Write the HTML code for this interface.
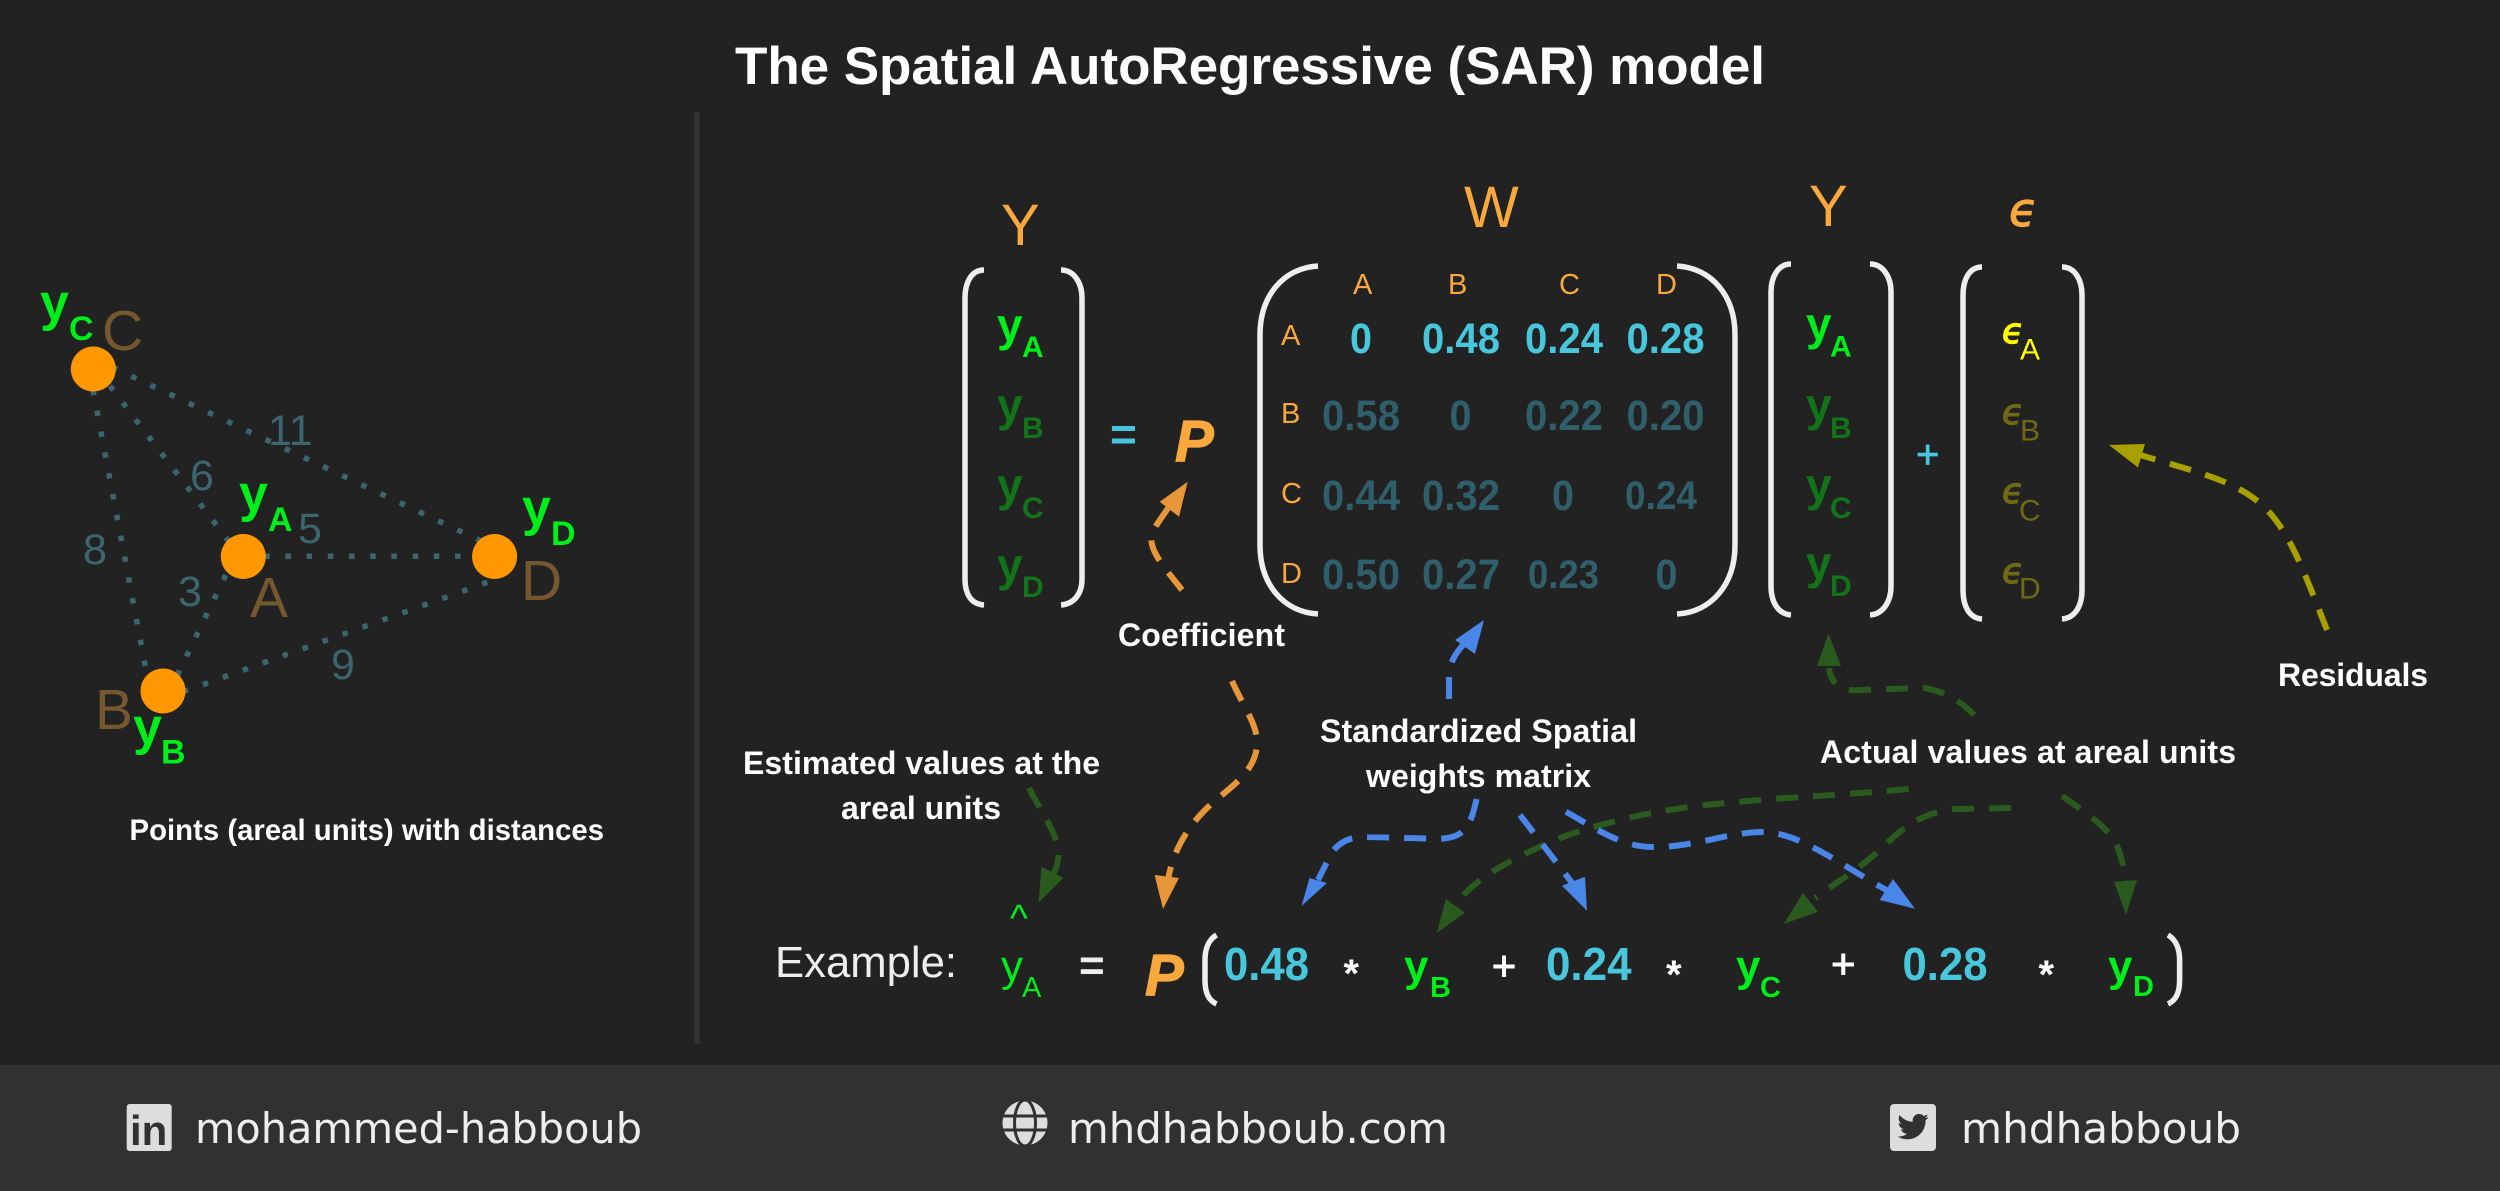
<!DOCTYPE html>
<html lang="en">
<head>
<meta charset="utf-8">
<title>The Spatial AutoRegressive (SAR) model</title>
<style>
html,body{margin:0;padding:0;background:#222;width:2500px;height:1191px;overflow:hidden}
svg{display:block;font-family:"Liberation Sans",sans-serif}
.dot{fill:none;stroke:#3d6570;stroke-width:5.5;stroke-dasharray:5.5 15.7}
.br{fill:none;stroke:#eee;stroke-width:5.5}
.lbl{font-weight:700;font-size:32px;fill:#fff}
.gb{font-weight:700;fill:#00ee1a}
.dash{fill:none;stroke-width:6;stroke-dasharray:22 15}
.num{font-weight:700;font-size:43px}
.c{fill:#48c6dc}.d{fill:#2f5f6b}
.or{fill:#f9a83e}
.gd{fill:#127418;font-weight:700}
.g{fill:#00ee1a;font-weight:700}
.eps{font-family:"DejaVu Sans",sans-serif;font-style:italic;font-weight:400;stroke-width:1.2px}
.foot{font-family:"DejaVu Sans",sans-serif;font-size:42px;fill:#eee}
</style>
</head>
<body>
<svg width="2500" height="1191" viewBox="0 0 2500 1191" xmlns="http://www.w3.org/2000/svg">
<rect width="2500" height="1191" fill="#222"/>
<text x="735" y="84" font-size="53" font-weight="700" fill="#fff" textLength="1030">The Spatial AutoRegressive (SAR) model</text>
<rect x="694.500" y="112" width="5" height="932" fill="#333"/>

<!-- Left graph -->
<line class="dot" x1="89" y1="369" x2="150" y2="691"/>
<line class="dot" x1="97" y1="369" x2="240" y2="556"/>
<line class="dot" x1="93" y1="358" x2="495" y2="547.600"/>
<line class="dot" x1="243" y1="556.300" x2="495" y2="556.300"/>
<line class="dot" x1="235" y1="556" x2="169.600" y2="691"/>
<line class="dot" x1="163" y1="699" x2="495" y2="579.600"/>
<circle cx="93.300" cy="369" r="22.500" fill="#ff9800"/>
<circle cx="243.300" cy="556.500" r="22.500" fill="#ff9800"/>
<circle cx="494.600" cy="556.500" r="22.500" fill="#ff9800"/>
<circle cx="163" cy="691" r="22.500" fill="#ff9800"/>
<g font-size="57" fill="#75582f">
<text x="102" y="350">C</text>
<text x="250" y="617">A</text>
<text x="521" y="600">D</text>
<text x="95" y="729">B</text>
</g>
<g font-size="43" fill="#3d6570">
<text x="268" y="445">11</text>
<text x="190" y="490">6</text>
<text x="298" y="543">5</text>
<text x="83" y="564">8</text>
<text x="178" y="606">3</text>
<text x="331" y="679">9</text>
</g>
<g class="gb">
<text x="40" y="320" font-size="52">y</text><text x="69" y="340" font-size="34">C</text>
<text x="239" y="511" font-size="52">y</text><text x="268" y="531" font-size="34">A</text>
<text x="522" y="525" font-size="52">y</text><text x="551" y="545" font-size="34">D</text>
<text x="133" y="744" font-size="52">y</text><text x="161" y="763.500" font-size="34">B</text>
</g>
<text x="129.500" y="840" class="lbl" style="font-size:29.300px" textLength="474.500">Points (areal units) with distances</text>

<!-- Headers -->
<g font-size="58" class="or">
<text x="1001" y="245">Y</text>
<text x="1464" y="227">W</text>
<text x="1809" y="226">Y</text>
</g>
<text x="2009" y="226" class="eps or" stroke="#f9a83e" font-size="46">ϵ</text>

<!-- Brackets -->
<path class="br" d="M984,270C971,270 965,283 965,298V579C965,594 971,604 984,605"/>
<path class="br" d="M1061,270C1074,270 1082,283 1082,298V579C1082,594 1074,604 1061,605"/>
<path class="br" d="M1318,266C1284,268 1260,295 1260,335V545C1260,585 1284,612 1318,614"/>
<path class="br" d="M1677,266C1711,268 1735,295 1735,335V545C1735,585 1711,612 1677,614"/>
<path class="br" d="M1791,264C1778,264 1771,277 1771,292V586C1771,602 1778,614 1791,615"/>
<path class="br" d="M1870,264C1883,264 1891,277 1891,292V586C1891,602 1883,614 1870,615"/>
<path class="br" d="M1982,267C1969,267 1963,280 1963,295V590C1963,606 1969,618 1982,619"/>
<path class="br" d="M2062,267C2075,267 2082,280 2082,295V590C2082,606 2075,618 2062,619"/>

<!-- Y left entries -->
<text x="997" y="341" font-size="46" class="g">y</text><text x="1022" y="357" font-size="30" class="g">A</text>
<text x="997" y="421" font-size="46" class="gd">y</text><text x="1022" y="438" font-size="30" class="gd">B</text>
<text x="997" y="501" font-size="46" class="gd">y</text><text x="1022" y="518" font-size="30" class="gd">C</text>
<text x="997" y="581" font-size="46" class="gd">y</text><text x="1022" y="597" font-size="30" class="gd">D</text>

<text x="1110" y="450" font-size="46" font-weight="700" fill="#48c6dc">=</text>
<text x="1175" y="461" font-size="58" font-weight="700" font-style="italic" class="or" stroke="#f9a83e" stroke-width="1.2">P</text>

<!-- W headers -->
<g font-size="29" class="or">
<text x="1353" y="294">A</text>
<text x="1448" y="294">B</text>
<text x="1559" y="294">C</text>
<text x="1656" y="294">D</text>
<text x="1281" y="345">A</text>
<text x="1281" y="423">B</text>
<text x="1281" y="503">C</text>
<text x="1281" y="583">D</text>
</g>
<!-- W values -->
<g class="num" lengthAdjust="spacingAndGlyphs">
<text x="1350" y="353" class="c" textLength="22" lengthAdjust="spacingAndGlyphs">0</text>
<text x="1422" y="353" class="c" textLength="78" lengthAdjust="spacingAndGlyphs">0.48</text>
<text x="1525" y="353" class="c" textLength="78" lengthAdjust="spacingAndGlyphs">0.24</text>
<text x="1626.500" y="353" class="c" textLength="78" lengthAdjust="spacingAndGlyphs">0.28</text>
<text x="1322" y="430" class="d" textLength="78" lengthAdjust="spacingAndGlyphs">0.58</text>
<text x="1449.500" y="430" class="d" textLength="22" lengthAdjust="spacingAndGlyphs">0</text>
<text x="1525" y="430" class="d" textLength="78" lengthAdjust="spacingAndGlyphs">0.22</text>
<text x="1626.500" y="430" class="d" textLength="78" lengthAdjust="spacingAndGlyphs">0.20</text>
<text x="1322" y="510" class="d" textLength="78" lengthAdjust="spacingAndGlyphs">0.44</text>
<text x="1422" y="510" class="d" textLength="78" lengthAdjust="spacingAndGlyphs">0.32</text>
<text x="1552" y="510" class="d" textLength="22" lengthAdjust="spacingAndGlyphs">0</text>
<text x="1625" y="509" class="d" style="font-size:40px" textLength="72" lengthAdjust="spacingAndGlyphs">0.24</text>
<text x="1322" y="589" class="d" textLength="78" lengthAdjust="spacingAndGlyphs">0.50</text>
<text x="1422" y="589" class="d" textLength="78" lengthAdjust="spacingAndGlyphs">0.27</text>
<text x="1528" y="588" class="d" style="font-size:40px" textLength="71" lengthAdjust="spacingAndGlyphs">0.23</text>
<text x="1655.500" y="589" class="d" textLength="22" lengthAdjust="spacingAndGlyphs">0</text>
</g>

<!-- Y right entries -->
<text x="1806" y="340" font-size="46" class="g">y</text><text x="1830" y="356.500" font-size="30" class="g">A</text>
<text x="1806" y="421" font-size="46" class="gd">y</text><text x="1830" y="438" font-size="30" class="gd">B</text>
<text x="1806" y="501" font-size="46" class="gd">y</text><text x="1830" y="518" font-size="30" class="gd">C</text>
<text x="1806" y="579" font-size="46" class="gd">y</text><text x="1830" y="596" font-size="30" class="gd">D</text>

<text x="1916" y="468" font-size="40" fill="#48c6dc" stroke="#48c6dc" stroke-width="0.8">+</text>

<!-- eps entries -->
<text x="2002" y="343" font-size="35" class="eps" fill="#ffff00" stroke="#ffff00">ϵ</text><text x="2020" y="359.500" font-size="30" fill="#ffff00">A</text>
<text x="2002" y="424" font-size="35" class="eps" fill="#6e6a14" stroke="#6e6a14">ϵ</text><text x="2020" y="440.500" font-size="30" fill="#6e6a14">B</text>
<text x="2002" y="503" font-size="35" class="eps" fill="#6e6a14" stroke="#6e6a14">ϵ</text><text x="2019" y="520.500" font-size="30" fill="#6e6a14">C</text>
<text x="2002" y="583" font-size="35" class="eps" fill="#6e6a14" stroke="#6e6a14">ϵ</text><text x="2019" y="598.500" font-size="30" fill="#6e6a14">D</text>

<!-- Labels -->
<text x="1118" y="646" class="lbl" textLength="167">Coefficient</text>
<text x="2278" y="686" class="lbl" textLength="150">Residuals</text>
<text x="1820" y="763" class="lbl" textLength="416">Actual values at areal units</text>
<text x="1320" y="742" class="lbl" textLength="317">Standardized Spatial</text>
<text x="1366" y="787" class="lbl" textLength="225">weights matrix</text>
<text x="743" y="774" class="lbl" textLength="357">Estimated values at the</text>
<text x="841" y="819" class="lbl" textLength="160">areal units</text>

<!-- Green arrows (behind blue) -->
<g stroke="#2a5a1e">
<path class="dash" d="M1974,715C1960,700 1945,692 1925,688L1889,689L1860,690C1838,692 1830,680 1829,668"/>
<path class="dash" d="M1029,788C1040,810 1055,830 1058,848C1060,860 1056,868 1053,875"/>
<path class="dash" d="M1908.700,789C1850,795 1780,797 1706,805C1660,810 1610,820 1560,838C1520,855 1480,875 1462,897"/>
<path class="dash" d="M2011,808L1956,809C1925,812 1905,825 1885,845C1865,865 1840,880 1815,898"/>
<path class="dash" d="M2062,796C2085,812 2105,825 2115,842C2122,855 2124,870 2125,885"/>
</g>
<polygon fill="#2a5a1e" points="1828.500,633.500 1817,666 1841,666"/>
<polygon fill="#2a5a1e" points="1038.600,902.700 1041.500,866.700 1063.300,878"/>
<polygon fill="#2a5a1e" points="1436.700,933 1446,899 1465,912.700"/>
<polygon fill="#2a5a1e" points="1783.700,924 1803,893 1818,911.700"/>
<polygon fill="#2a5a1e" points="2126,915 2114,881.700 2137,880"/>

<!-- Orange arrows -->
<path class="dash" stroke="#e8963a" d="M1182,590C1165,568 1148,550 1152,535C1155,525 1162,518 1170,505"/>
<polygon fill="#e8963a" points="1187.700,481.700 1159.700,501.700 1179,516.700"/>
<path class="dash" stroke="#e8963a" d="M1232,681C1245,710 1258,725 1257,745C1255,775 1225,790 1205,810C1185,830 1172,855 1168,880"/>
<polygon fill="#e8963a" points="1163,909 1154.600,875 1179,878"/>

<!-- Blue arrows -->
<path class="dash" stroke="#4a86e8" d="M1449,699L1449,675C1450,660 1458,650 1466,642"/>
<polygon fill="#4a86e8" points="1484,620 1455,640 1475,654"/>
<path class="dash" stroke="#4a86e8" d="M1476.600,799C1473,815 1470,825 1462,832C1450,842 1430,838 1406,838L1368,837C1350,836 1340,842 1332,852L1318,880"/>
<polygon fill="#4a86e8" points="1301.500,906 1309.500,878 1327,883"/>
<path class="dash" stroke="#4a86e8" d="M1520,815L1576,888"/>
<polygon fill="#4a86e8" points="1587,910.700 1562,885.700 1585,876.700"/>
<path class="dash" stroke="#4a86e8" d="M1566,811.700C1590,825 1620,847 1652,847C1690,848 1730,832 1762,832C1800,832 1840,865 1890,892"/>
<polygon fill="#4a86e8" points="1915,908.700 1879.600,900 1893,879"/>

<!-- Residuals arrow -->
<path class="dash" stroke="#a8a000" d="M2327,630C2305,575 2290,530 2262,505C2235,480 2190,470 2140,455"/>
<polygon fill="#a8a000" points="2109,445 2145,444 2138,467.500"/>

<!-- Example row -->
<text x="775" y="977" font-size="44" fill="#eee" textLength="182" lengthAdjust="spacingAndGlyphs">Example:</text>
<text x="1010" y="931" font-size="38" fill="#00ee1a">^</text>
<text x="1001" y="981" font-size="44" fill="#00ee1a">y</text><text x="1022" y="997" font-size="29" fill="#00ee1a">A</text>
<text x="1079" y="980" font-size="44" font-weight="700" fill="#eee">=</text>
<text x="1145" y="995" font-size="58" font-weight="700" font-style="italic" class="or" stroke="#f9a83e" stroke-width="1.2">P</text>
<path class="br" d="M1216.500,935C1208,940 1205,950 1205,960V980C1205,992 1208,1000 1216.500,1004"/>
<g font-size="46" font-weight="700" fill="#48c6dc">
<text x="1224" y="980" textLength="85" lengthAdjust="spacingAndGlyphs">0.48</text>
<text x="1546" y="980" textLength="85.500" lengthAdjust="spacingAndGlyphs">0.24</text>
<text x="1902.500" y="980" textLength="85" lengthAdjust="spacingAndGlyphs">0.28</text>
</g>
<g font-size="40" font-weight="700" fill="#fff">
<text x="1343.500" y="987">*</text>
<text x="1666" y="988">*</text>
<text x="2038.500" y="988">*</text>
</g>
<g font-size="42" fill="#fff" stroke="#fff" stroke-width="1">
<text x="1491.700" y="980">+</text>
<text x="1831" y="978">+</text>
</g>
<text x="1404" y="981" font-size="44" class="g">y</text><text x="1430" y="997" font-size="29" class="g">B</text>
<text x="1736" y="981" font-size="44" class="g">y</text><text x="1760" y="997" font-size="29" class="g">C</text>
<text x="2108" y="981" font-size="44" class="g">y</text><text x="2133" y="996" font-size="29" class="g">D</text>
<path class="br" d="M2168,935C2176.500,940 2179.600,950 2179.600,960V980C2179.600,992 2176.500,1000 2168,1004"/>

<!-- Footer -->
<rect x="0" y="1065" width="2500" height="126" fill="#313131"/>
<rect x="126.700" y="1104" width="45" height="47" rx="3" fill="#ddd"/>
<text x="130" y="1145" font-size="42" font-weight="700" fill="#313131">in</text>
<text x="195" y="1143" class="foot" textLength="447" lengthAdjust="spacingAndGlyphs">mohammed-habboub</text>

<circle cx="1025" cy="1123" r="22.500" fill="#ddd"/>
<g fill="none" stroke="#313131" stroke-width="3">
<ellipse cx="1025" cy="1123" rx="10.500" ry="23"/>
<line x1="1000" y1="1116" x2="1050" y2="1116"/>
<line x1="1000" y1="1130" x2="1050" y2="1130"/>
</g>
<text x="1068" y="1143" class="foot" textLength="380" lengthAdjust="spacingAndGlyphs">mhdhabboub.com</text>

<rect x="1890" y="1104" width="46" height="47" rx="4" fill="#ddd"/>
<path transform="translate(1897.500,1111) scale(1.3)" fill="#313131" d="M23.953 4.57a10 10 0 01-2.825.775 4.958 4.958 0 002.163-2.723c-.951.555-2.005.959-3.127 1.184a4.92 4.92 0 00-8.384 4.482C7.69 8.095 4.067 6.13 1.64 3.162a4.822 4.822 0 00-.666 2.475c0 1.71.87 3.213 2.188 4.096a4.904 4.904 0 01-2.228-.616v.06a4.923 4.923 0 003.946 4.827 4.996 4.996 0 01-2.212.085 4.936 4.936 0 004.604 3.417 9.867 9.867 0 01-6.102 2.105c-.39 0-.779-.023-1.17-.067a13.995 13.995 0 007.557 2.209c9.053 0 13.998-7.496 13.998-13.985 0-.21 0-.42-.015-.63A9.935 9.935 0 0024 4.59z"/>
<text x="1961" y="1143" class="foot" textLength="280" lengthAdjust="spacingAndGlyphs">mhdhabboub</text>
</svg>
</body>
</html>
